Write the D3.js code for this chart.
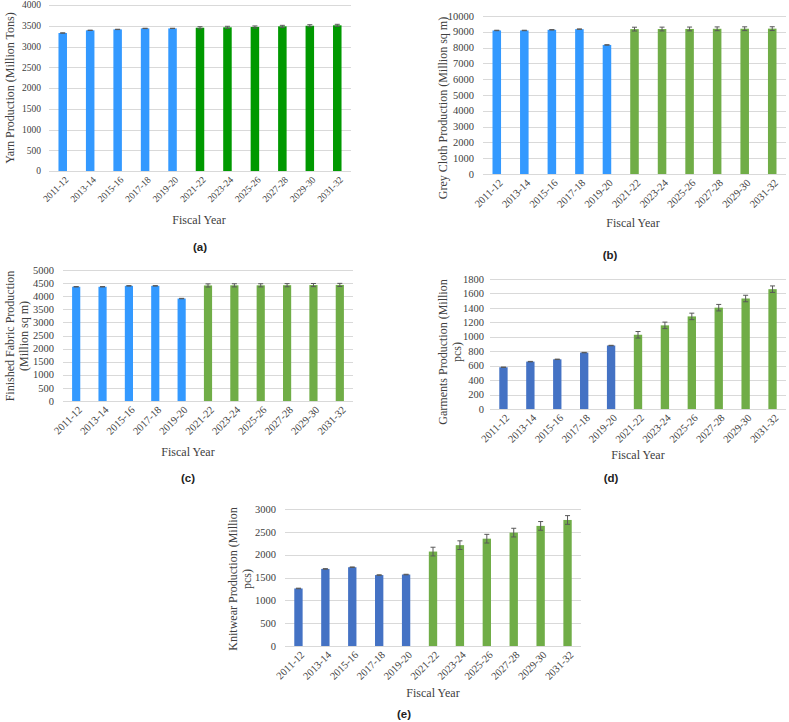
<!DOCTYPE html>
<html>
<head>
<meta charset="utf-8">
<script src="https://cdn.jsdelivr.net/npm/d3@7"></script>
<style>
  body { margin: 0; background: #fff; }
  svg { display: block; }
</style>
</head>
<body>
<svg id="chart" width="789" height="722"></svg>
<script>
// ---- data ----
const categories = ["2011-12","2013-14","2015-16","2017-18","2019-20","2021-22","2023-24","2025-26","2027-28","2029-30","2031-32"];
const historicalCount = 5;

const yarnValues   = [3325, 3390, 3412, 3436, 3436, 3452, 3462, 3470, 3485, 3500, 3510];
const yarnErrors   = [4, 4, 4, 4, 4, 25, 25, 25, 25, 25, 25];
const yarnTicks    = [0, 500, 1000, 1500, 2000, 2500, 3000, 3500, 4000];

const greyValues   = [9085, 9085, 9125, 9168, 8168, 9170, 9175, 9180, 9190, 9195, 9200];
const greyErrors   = [15, 15, 15, 15, 15, 120, 120, 120, 120, 120, 120];
const greyTicks    = [0, 1000, 2000, 3000, 4000, 5000, 6000, 7000, 8000, 9000, 10000];

const fabricValues = [4360, 4360, 4395, 4395, 3910, 4410, 4415, 4415, 4420, 4425, 4430];
const fabricErrors = [8, 8, 8, 8, 8, 60, 60, 60, 60, 60, 60];
const fabricTicks  = [0, 500, 1000, 1500, 2000, 2500, 3000, 3500, 4000, 4500, 5000];

const garmentValues = [578, 656, 688, 781, 879, 1028, 1158, 1282, 1403, 1530, 1659];
const garmentErrors = [3, 3, 3, 3, 3, 45, 45, 45, 45, 45, 45];
const garmentTicks  = [0, 200, 400, 600, 800, 1000, 1200, 1400, 1600, 1800];

const knitValues = [1260, 1688, 1725, 1553, 1565, 2068, 2208, 2350, 2483, 2630, 2760];
const knitErrors = [6, 6, 6, 6, 6, 95, 95, 95, 95, 95, 95];
const knitTicks  = [0, 500, 1000, 1500, 2000, 2500, 3000];

// ---- panels (layout/style) ----
const panels = [
  { values: yarnValues, errors: yarnErrors, ticks: yarnTicks,
    title: ["Yarn Production (Million Tons)"], label: "(a)",
    x0: 49, x1: 351, yTop: 5, yBot: 171, tickRight: 41, tickFont: 9.5,
    titleX: 10, titleY: 88, fyX: 199, fyY: 224, labX: 200, labY: 251,
    blue: "#3399ff", green: "#009900" },
  { values: greyValues, errors: greyErrors, ticks: greyTicks,
    title: ["Grey Cloth Production (Million sq m)"], label: "(b)",
    x0: 483, x1: 786, yTop: 16, yBot: 174, tickRight: 474, tickFont: 10.5,
    titleX: 443, titleY: 108, fyX: 633, fyY: 227, labX: 610, labY: 259,
    blue: "#3399ff", green: "#70ad47" },
  { values: fabricValues, errors: fabricErrors, ticks: fabricTicks,
    title: ["Finished Fabric Production", "(Million sq m)"], label: "(c)",
    x0: 63, x1: 353, yTop: 270, yBot: 401, tickRight: 54, tickFont: 10.5,
    titleX: 10, titleY: 336, fyX: 188, fyY: 456, labX: 188, labY: 482,
    blue: "#3399ff", green: "#70ad47" },
  { values: garmentValues, errors: garmentErrors, ticks: garmentTicks,
    title: ["Garments Production (Million", "pcs)"], label: "(d)",
    x0: 490, x1: 786, yTop: 279, yBot: 409, tickRight: 484, tickFont: 10.5,
    titleX: 443, titleY: 352, fyX: 638, fyY: 459, labX: 611, labY: 482,
    blue: "#4472c4", green: "#70ad47" },
  { values: knitValues, errors: knitErrors, ticks: knitTicks,
    title: ["Knitwear Production (Million", "pcs)"], label: "(e)",
    x0: 285, x1: 581, yTop: 509, yBot: 646, tickRight: 276, tickFont: 10.5,
    titleX: 233, titleY: 579, fyX: 433, fyY: 697, labX: 404, labY: 718,
    blue: "#4472c4", green: "#70ad47" }
];

const svg = d3.select("#chart");
const serif = "'Liberation Serif','Times New Roman',serif";
const sans = "'Liberation Sans',Arial,sans-serif";

panels.forEach(p => {
  const g = svg.append("g");
  const x = d3.scaleBand().domain(categories).range([p.x0, p.x1]).paddingInner(0.69).paddingOuter(0.345);
  const y = d3.scaleLinear().domain([0, d3.max(p.ticks)]).range([p.yBot, p.yTop]);

  // gridlines
  g.selectAll("line.grid").data(p.ticks).join("line")
    .attr("x1", p.x0).attr("x2", p.x1)
    .attr("y1", d => Math.round(y(d)) + 0.5).attr("y2", d => Math.round(y(d)) + 0.5)
    .attr("stroke", "#d9d9d9").attr("stroke-width", 1);

  // y tick labels
  g.selectAll("text.ytick").data(p.ticks).join("text")
    .attr("x", p.tickRight).attr("y", d => y(d)).attr("dy", "0.35em")
    .attr("text-anchor", "end").attr("font-family", serif).attr("font-size", p.tickFont)
    .attr("fill", "#404040").text(d => d);

  // bars
  const data = categories.map((c, i) => ({ c, v: p.values[i], e: p.errors[i], proj: i >= historicalCount }));
  g.selectAll("rect.bar").data(data).join("rect")
    .attr("x", d => x(d.c)).attr("width", x.bandwidth())
    .attr("y", d => y(d.v)).attr("height", d => y(0) - y(d.v))
    .attr("fill", d => d.proj ? p.green : p.blue);

  // error bars
  const cap = 2.5;
  const eb = g.selectAll("g.err").data(data).join("g").attr("stroke", "#595959").attr("stroke-width", 1);
  eb.append("line")
    .attr("x1", d => x(d.c) + x.bandwidth() / 2).attr("x2", d => x(d.c) + x.bandwidth() / 2)
    .attr("y1", d => y(d.v + d.e)).attr("y2", d => y(d.v - d.e));
  eb.append("line")
    .attr("x1", d => x(d.c) + x.bandwidth() / 2 - cap).attr("x2", d => x(d.c) + x.bandwidth() / 2 + cap)
    .attr("y1", d => y(d.v + d.e)).attr("y2", d => y(d.v + d.e));
  eb.append("line")
    .attr("x1", d => x(d.c) + x.bandwidth() / 2 - cap).attr("x2", d => x(d.c) + x.bandwidth() / 2 + cap)
    .attr("y1", d => y(d.v - d.e)).attr("y2", d => y(d.v - d.e));

  // x tick labels rotated
  g.selectAll("text.xtick").data(categories).join("text")
    .attr("transform", d => `translate(${x(d) + x.bandwidth() / 2 + 4},${p.yBot + 7}) rotate(-45)`)
    .attr("text-anchor", "end").attr("dy", "0.35em")
    .attr("font-family", serif).attr("font-size", p.tickFont).attr("fill", "#404040")
    .text(d => d);

  // y title
  p.title.forEach((t, i) => {
    g.append("text")
      .attr("transform", `translate(${p.titleX + i * 14 + 4},${p.titleY}) rotate(-90)`)
      .attr("text-anchor", "middle")
      .attr("font-family", serif).attr("font-size", 12).attr("fill", "#404040")
      .text(t);
  });

  // x title
  g.append("text").attr("x", p.fyX).attr("y", p.fyY).attr("text-anchor", "middle")
    .attr("font-family", serif).attr("font-size", 12).attr("fill", "#404040").text("Fiscal Year");

  // panel label
  g.append("text").attr("x", p.labX).attr("y", p.labY).attr("text-anchor", "middle")
    .attr("font-family", sans).attr("font-weight", "bold").attr("font-size", 11.5).attr("fill", "#222")
    .text(p.label);
});
</script>
</body>
</html>
